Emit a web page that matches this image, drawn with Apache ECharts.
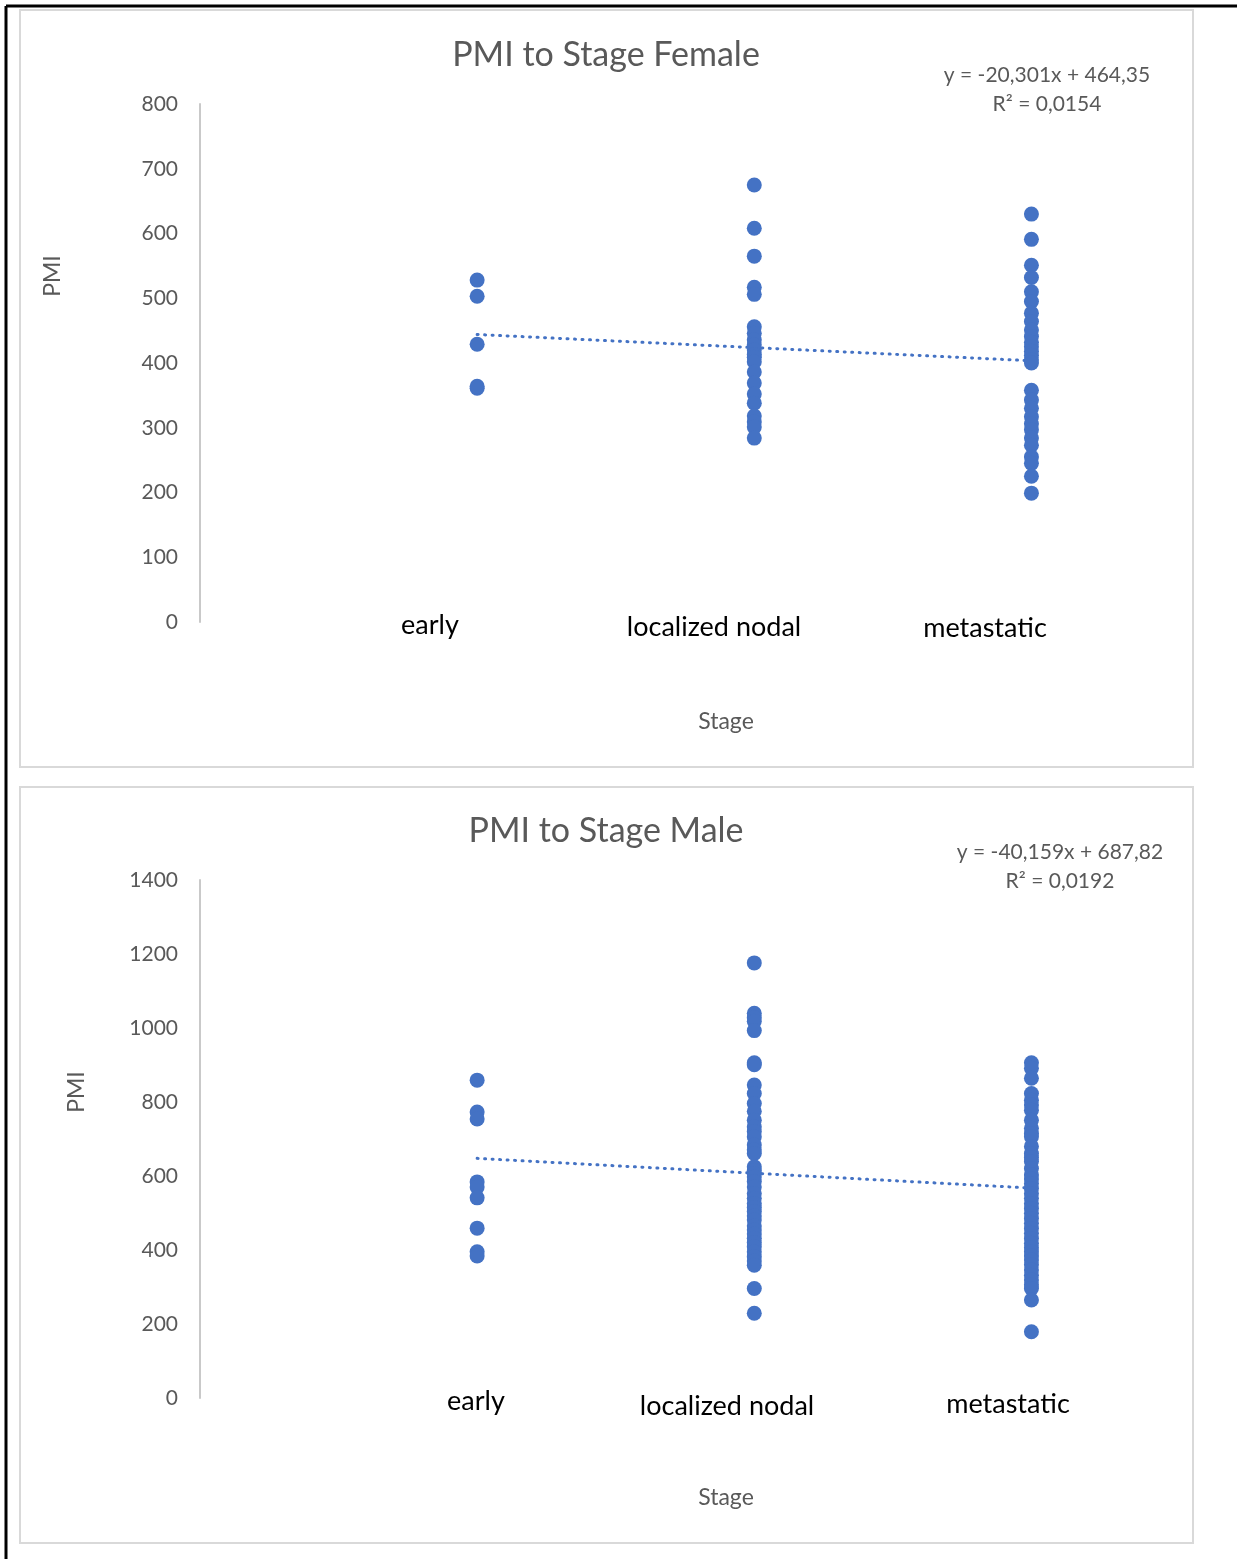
<!DOCTYPE html>
<html>
<head>
<meta charset="utf-8">
<script src="https://cdn.jsdelivr.net/npm/echarts@6/dist/echarts.min.js"></script>
<style>
  body { margin: 0; background: #fff; }
  #myChart { width: 1237px; height: 1559px; }
</style>
</head>
<body>
<div id="myChart"></div>
<script>
  // stage codes used on the x value axis (1 = early, 2 = localized nodal, 3 = metastatic)
  const stageNames = ['early', 'localized nodal', 'metastatic'];

  // PMI values, female
  const femaleEarly = [528, 503, 429, 361, 364];
  const femaleLocalized = [675, 608, 565, 517, 506, 456, 446, 436, 428, 420, 413, 409, 402, 386, 369, 352, 338, 318, 309, 301, 284];
  const femaleMetastatic = [630, 591, 551, 532, 510, 495, 477, 464, 451, 441, 432, 425, 418, 412, 405, 400, 358, 343, 330, 317, 306, 297, 284, 273, 255, 245, 225, 199];

  // PMI values, male
  const maleEarly = [859, 773, 754, 584, 570, 541, 459, 395, 384];
  const maleLocalized = [1176, 1040, 1028, 1018, 993, 906, 901, 846, 823, 796, 775, 751, 733, 720, 706, 684, 671, 661, 625, 615, 607, 597, 585, 570, 553, 540, 526, 515, 504, 492, 481, 465, 454, 443, 432, 420, 409, 395, 382, 370, 359, 296, 229];
  const maleMetastatic = [906, 891, 864, 823, 805, 792, 778, 751, 729, 715, 706, 680, 661, 650, 639, 620, 603, 592, 580, 566, 553, 540, 526, 512, 499, 485, 472, 458, 445, 431, 418, 406, 395, 384, 373, 360, 346, 332, 319, 306, 296, 265, 179];

  // linear trendline coefficients (slope, intercept)
  const femaleTrend = [-20.301, 464.35];
  const maleTrend = [-40.159, 687.82];
  const femaleEquation = ['y = -20,301x + 464,35', 'R² = 0,0154'];
  const maleEquation = ['y = -40,159x + 687,82', 'R² = 0,0192'];

  // y axis ticks
  const femaleAxis = [0, 800, 100];
  const maleAxis = [0, 1400, 200];

  const BLUE = '#4472C4';
  const GREY = '#595959';
  const FONT = 'Lato, "Open Sans", sans-serif';

  function points(groups) {
    const out = [];
    groups.forEach(function (vals, i) {
      vals.forEach(function (v) { out.push([i + 1, v]); });
    });
    return out;
  }

  function trend(c) {
    return [[1, c[0] * 1 + c[1]], [3, c[0] * 3 + c[1]]];
  }

  function txt(text, x, y, size, color, rotation) {
    return {
      type: 'text', x: x, y: y, rotation: rotation || 0, z: 10,
      style: {
        text: text, fill: color, font: size + 'px ' + FONT,
        textAlign: 'center', textVerticalAlign: 'middle'
      }
    };
  }

  let myChart = echarts.init(document.getElementById('myChart'));

  const graphic = [
    // outer black frame (top + left only)
    { type: 'line', shape: { x1: 6, y1: 6, x2: 1237, y2: 6 }, style: { stroke: '#000', lineWidth: 3 } },
    { type: 'line', shape: { x1: 6, y1: 6, x2: 6, y2: 1559 }, style: { stroke: '#000', lineWidth: 3 } },
    // chart areas
    { type: 'rect', shape: { x: 20, y: 10, width: 1173, height: 757 }, style: { fill: 'none', stroke: '#d9d9d9', lineWidth: 2 } },
    { type: 'rect', shape: { x: 20, y: 787, width: 1173, height: 756 }, style: { fill: 'none', stroke: '#d9d9d9', lineWidth: 2 } },

    txt('PMI to Stage Female', 606, 55, 34, GREY),
    txt('PMI to Stage Male', 606, 831, 34, GREY),
    txt(femaleEquation[0], 1047, 75, 21, GREY),
    txt(femaleEquation[1], 1047, 104, 21, GREY),
    txt(maleEquation[0], 1060, 852, 21, GREY),
    txt(maleEquation[1], 1060, 881, 21, GREY),
    txt('PMI', 53, 276, 23, GREY, Math.PI / 2),
    txt('PMI', 77, 1092, 23, GREY, Math.PI / 2),
    txt('Stage', 726, 722, 23, GREY),
    txt('Stage', 726, 1498, 23, GREY),

    // stage labels (placed like the text boxes in the original)
    txt(stageNames[0], 430, 625, 27, '#000'),
    txt(stageNames[1], 714, 627, 27, '#000'),
    txt(stageNames[2], 985, 628, 27, '#000'),
    txt(stageNames[0], 476, 1401, 27, '#000'),
    txt(stageNames[1], 727, 1406, 27, '#000'),
    txt(stageNames[2], 1008, 1404, 27, '#000')
  ];

  function yAxis(idx, ax) {
    return {
      type: 'value', gridIndex: idx,
      min: ax[0], max: ax[1], interval: ax[2],
      axisLine: { show: true, lineStyle: { color: '#c9c9c9', width: 2 } },
      axisTick: { show: false },
      splitLine: { show: false },
      axisLabel: {
        color: GREY, fontSize: 21, fontFamily: FONT, margin: 22,
        formatter: function (v) { return String(v); }
      }
    };
  }

  function xAxis(idx) {
    return {
      type: 'value', gridIndex: idx, min: 0, max: 3.5,
      axisLine: { show: false }, axisTick: { show: false },
      axisLabel: { show: false }, splitLine: { show: false }
    };
  }

  function scatter(idx, data) {
    return {
      type: 'scatter', xAxisIndex: idx, yAxisIndex: idx, z: 3,
      symbolSize: 15, itemStyle: { color: BLUE, opacity: 1 },
      data: data
    };
  }

  function trendLine(idx, data) {
    return {
      type: 'line', xAxisIndex: idx, yAxisIndex: idx, z: 2,
      showSymbol: false, symbol: 'none', silent: true,
      lineStyle: { color: BLUE, width: 3, type: [1, 6.5], cap: 'round' },
      data: data
    };
  }

  myChart.setOption({
    animation: false,
    backgroundColor: '#fff',
    grid: [
      { left: 200, top: 104, width: 970, height: 518 },
      { left: 200, top: 880, width: 970, height: 518 }
    ],
    xAxis: [xAxis(0), xAxis(1)],
    yAxis: [yAxis(0, femaleAxis), yAxis(1, maleAxis)],
    series: [
      trendLine(0, trend(femaleTrend)),
      scatter(0, points([femaleEarly, femaleLocalized, femaleMetastatic])),
      trendLine(1, trend(maleTrend)),
      scatter(1, points([maleEarly, maleLocalized, maleMetastatic]))
    ],
    graphic: graphic
  });
</script>
</body>
</html>
